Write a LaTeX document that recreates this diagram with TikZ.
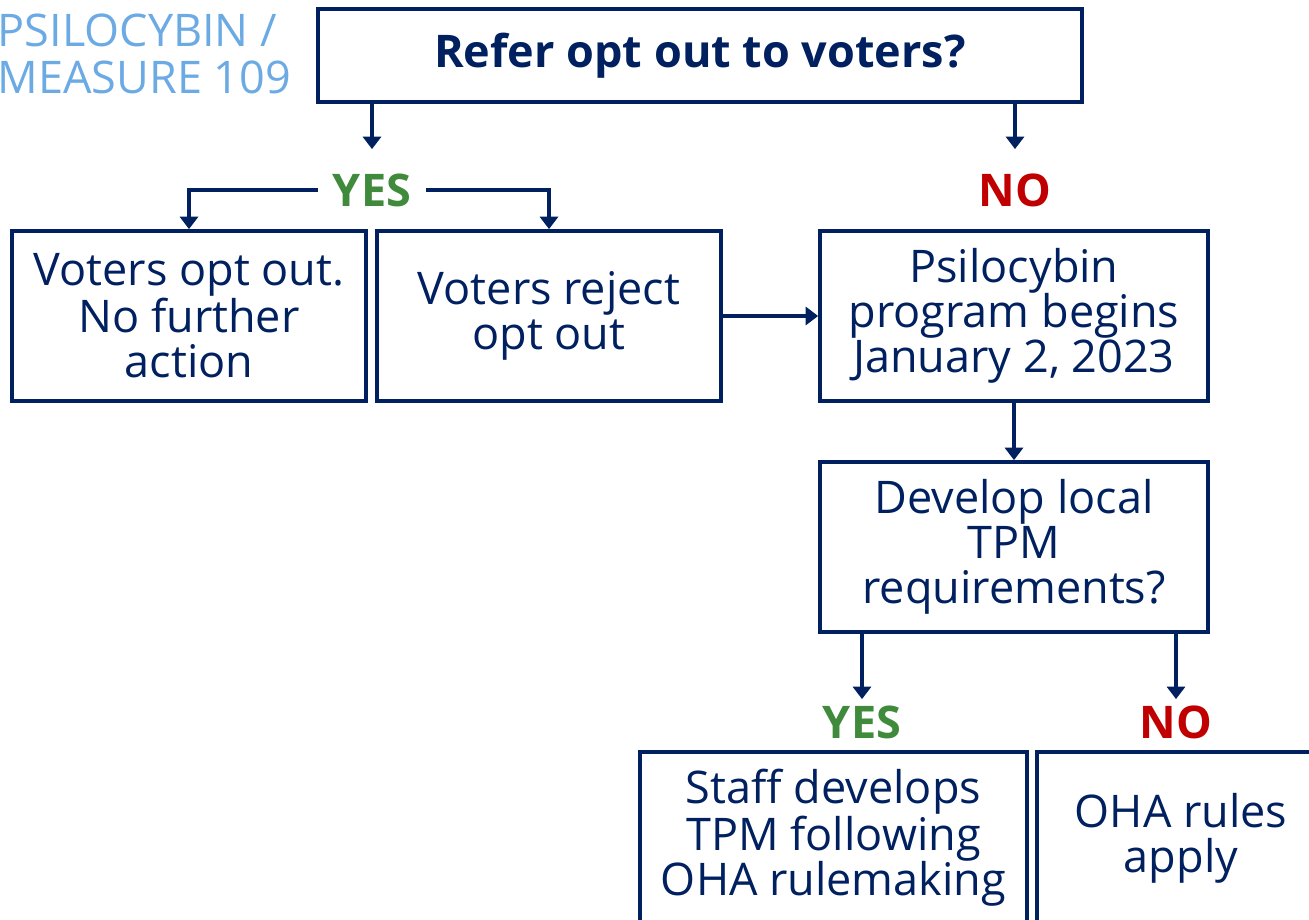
\documentclass[tikz,border=0pt]{standalone}
\usepackage{fontspec}
\setmainfont{Open Sans}
\usepackage{xcolor}
\usepackage{tikz}
\usetikzlibrary{arrows.meta}
\definecolor{navy}{RGB}{0,32,96}
\definecolor{skyblue}{RGB}{108,170,228}
\definecolor{yesgreen}{RGB}{64,138,60}
\definecolor{nored}{RGB}{192,0,0}
\tikzstyle{question} = [rectangle, draw=navy, line width=2.1pt, text=navy, font=\bfseries\fontsize{25.6}{25.6}\selectfont, minimum width=15.28cm, minimum height=1.86cm]
\tikzstyle{process} = [rectangle, draw=navy, line width=2.1pt, text=navy, font=\fontsize{25.6}{25.6}\selectfont, align=center, minimum height=3.4cm, inner sep=0pt]
\tikzstyle{yeslabel} = [text=yesgreen, font=\bfseries\fontsize{25.6}{25.6}\selectfont, inner xsep=8.5pt, inner ysep=0pt]
\tikzstyle{nolabel} = [text=nored, font=\bfseries\fontsize{25.6}{25.6}\selectfont, inner xsep=8.5pt, inner ysep=0pt]
\tikzstyle{arrow} = [line width=2.1pt, draw=navy, -{Triangle[length=0.25cm,width=0.36cm]}]

\begin{document}
\begin{tikzpicture}
        \path[use as bounding box, clip] (0,0) rectangle (26.18,-18.4);
        \node (title) [anchor=west, text=skyblue, font=\fontsize{25.6}{26.7}\selectfont, align=left, inner sep=0pt] at (-0.05,-1.07) {PSILOCYBIN /\\MEASURE 109};
        \node (refer) [question] at (14.0,-1.11) {Refer opt out to voters?};
        \node (yes1) [yeslabel] at (7.44,-3.8) {YES};
        \node (no1) [nolabel] at (20.3,-3.8) {NO};
        \node (optout) [process, minimum width=7.08cm] at (3.78,-6.32) {Voters opt out.\\No further\\action};
        \node (reject) [process, minimum width=6.88cm] at (10.98,-6.32) {Voters reject\\opt out};
        \node (begins) [process, minimum width=7.76cm] at (20.28,-6.32) {Psilocybin\\program begins\\January 2, 2023};
        \node (develop) [process, minimum width=7.76cm] at (20.28,-10.94) {Develop local\\TPM\\requirements?};
        \node (yes2) [yeslabel] at (17.24,-14.44) {YES};
        \node (no2) [nolabel] at (23.52,-14.44) {NO};
        \node (staff) [process, minimum width=7.74cm, minimum height=3.44cm] at (16.67,-16.76) {Staff develops\\TPM following\\OHA rulemaking};
        \node (oha) [process, minimum width=5.76cm, minimum height=3.44cm] at (23.62,-16.76) {OHA rules\\apply};

        \draw [arrow, shorten >=0.48cm] (refer.south -| yes1) -- (yes1.north);
        \draw [arrow, shorten >=0.48cm] (refer.south -| no1) -- (no1.north);
        \draw [arrow] (yes1.west) -| (optout.north);
        \draw [arrow] (yes1.east) -| (reject.north);
        \draw [arrow] (reject) -- (begins);
        \draw [arrow] (begins) -- (develop);
        \draw [arrow, shorten >=0.12cm] (develop.south -| yes2) -- (yes2.north);
        \draw [arrow, shorten >=0.12cm] (develop.south -| no2) -- (no2.north);
    \end{tikzpicture}
\end{document}
